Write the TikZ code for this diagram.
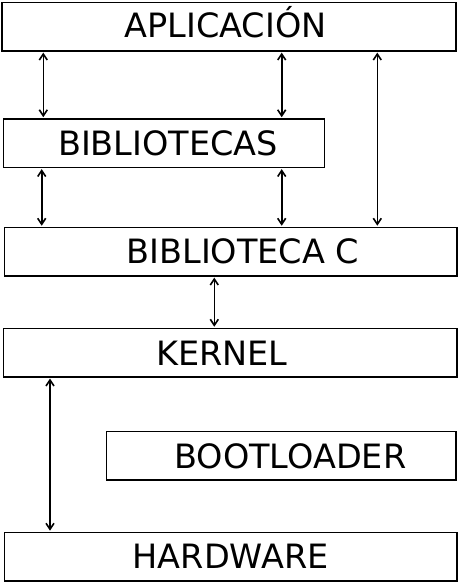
\documentclass[tikz,border=0pt]{standalone}
\usepackage{fontspec}
\newfontfamily\lblfont{DejaVu Sans}
\usetikzlibrary{arrows.meta}

\begin{document}
\begin{tikzpicture}[x=1pt, y=-1pt,
  layer/.style={draw, line width=1.8pt, rectangle, inner sep=0pt, anchor=north west, minimum height=48.5pt},
  caption/.style={anchor=base, yshift=-12pt, inner sep=0pt, font=\lblfont\fontsize{33.5}{40}\selectfont},
  link/.style={line width=1.6pt, {Straight Barb[length=6pt,width=8pt,line width=1.6pt]}-{Straight Barb[length=6pt,width=8pt,line width=1.6pt]}, shorten <=0.8pt, shorten >=0.8pt}]
  \useasboundingbox (0,0) rectangle (460,584);

  % software stack, top to bottom
  \node[layer, minimum width=454pt] (apl)  at (1.2,1.5)     {};
  \node[layer, minimum width=321pt] (bibs) at (2.5,118)   {};
  \node[layer, minimum width=452.5pt] (bibc) at (3.5,226.5) {};
  \node[layer, minimum width=453.5pt] (kern) at (2.5,327.5) {};
  \node[layer, minimum width=349.5pt] (boot) at (105.5,430.5) {};
  \node[layer, minimum width=452.5pt] (hw)   at (3.5,531.5) {};

  % labels
  \node[caption, xshift=-3.5pt, yshift=0.7pt] (tapl) at (apl.center) {APLICACIÓN};
  \node[caption, xshift=4.2pt, yshift=-0.5pt] (tbibs) at (bibs.center) {BIBLIOTECAS};
  \node[caption, xshift=12.3pt] (tbibc) at (bibc.center) {BIBLIOTECA C};
  \node[caption, xshift=-8.2pt, yshift=-0.5pt] (tkern) at (kern.center) {KERNEL};
  \node[caption, xshift=9.2pt, yshift=-1pt] (tboot) at (boot.center) {BOOTLOADER};
  \node[caption] (thw) at (hw.center) {HARDWARE};

  % interfaces between layers
  \draw[link] ([xshift=42.1pt]apl.south west) -- ([xshift=40.8pt]bibs.north west);
  \draw[link] ([xshift=280.5pt]apl.south west) -- ([xshift=279.2pt]bibs.north west);
  \draw[link] ([xshift=376.1pt]apl.south west) -- ([xshift=373.8pt]bibc.north west);
  \draw[link] ([xshift=39.2pt]bibs.south west) -- ([xshift=38.2pt]bibc.north west);
  \draw[link] ([xshift=279.2pt]bibs.south west) -- ([xshift=278.2pt]bibc.north west);
  \draw[link] ([xshift=210.8pt]bibc.south west) -- ([xshift=211.8pt]kern.north west);
  \draw[link] ([xshift=47.5pt]kern.south west) -- ([xshift=46.5pt]hw.north west);
\end{tikzpicture}
\end{document}
